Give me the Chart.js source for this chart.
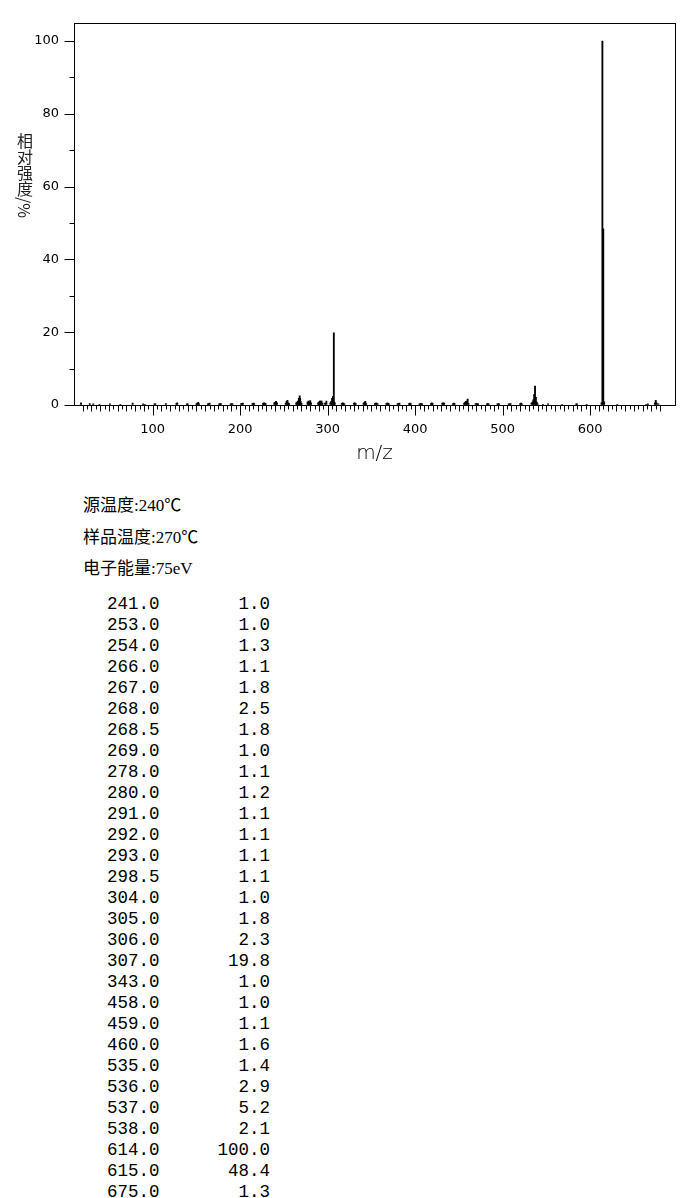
<!DOCTYPE html>
<html>
<head>
<meta charset="utf-8">
<script src="https://cdn.jsdelivr.net/npm/chart.js@4"></script>
<style>
body { margin: 0; background: #fff; width: 699px; height: 1198px; position: relative; overflow: hidden; }
#wrap { position: absolute; left: 0; top: 0; width: 699px; height: 470px; }
#ytitle { position: absolute; left: 17px; top: 133px; writing-mode: vertical-rl; font: 16px "Noto Sans CJK SC"; line-height: 16px; color: #222; }
#info { position: absolute; left: 83px; top: 490px; font: 17px "Liberation Serif", "Noto Sans CJK SC"; line-height: 31.5px; color: #000; }
#peaks { position: absolute; left: 107px; top: 594px; font: 17.5px "Liberation Mono"; line-height: 21px; color: #000; }
#peaks span { display: inline-block; white-space: pre; }
#peaks .m { width: 110px; }
#peaks .i { width: 53px; text-align: right; }
</style>
</head>
<body>
<div id="wrap"><canvas id="myCanvas" width="699" height="470"></canvas></div>
<div id="ytitle">相对强度/%</div>
<div id="info">
  <div>源温度:240℃</div>
  <div>样品温度:270℃</div>
  <div>电子能量:75eV</div>
</div>
<div id="peaks"></div>
<script>
var mz = [18, 28, 32, 39, 51, 63, 77, 89, 91, 102, 103, 115, 127, 128, 139, 140,
  150, 151, 152, 153, 163, 164, 165, 176, 177, 178, 189, 190, 191, 201, 202, 203,
  214, 215, 216, 226, 227, 228, 229, 239, 240, 241, 242, 252, 253, 254, 255, 256,
  264, 265, 266, 267, 268, 268.5, 269, 270, 277, 278, 279, 280, 281, 289, 290, 291,
  292, 293, 294, 297, 298.5, 303, 304, 305, 306, 307, 307.5, 308, 316, 317, 318, 319,
  330, 331, 332, 341, 342, 343, 344, 354, 355, 356, 357, 367, 368, 369, 370, 380,
  381, 382, 393, 394, 395, 405, 406, 407, 408, 418, 419, 420, 431, 432, 433, 443,
  444, 445, 456, 457, 458, 459, 460, 461, 469, 470, 471, 472, 482, 483, 484, 494,
  495, 496, 507, 508, 509, 520, 521, 522, 533, 534, 535, 536, 537, 538, 539, 540,
  546, 552, 568, 584, 585, 596, 613, 614, 615, 616, 631, 664, 666, 674, 675, 676, 678]
var intensity = [0.6, 0.4, 0.3, 0.2, 0.3, 0.2, 0.5, 0.3, 0.2, 0.3, 0.3, 0.4, 0.4, 0.6, 0.3, 0.3,
  0.4, 0.5, 0.7, 0.3, 0.3, 0.3, 0.5, 0.3, 0.4, 0.4, 0.3, 0.3, 0.4, 0.4, 0.4, 0.5,
  0.4, 0.5, 0.4, 0.4, 0.6, 0.5, 0.4, 0.6, 0.7, 1.0, 0.6, 0.5, 1.0, 1.3, 0.6, 0.4,
  0.6, 0.8, 1.1, 1.8, 2.5, 1.8, 1.0, 0.5, 0.8, 1.1, 0.8, 1.2, 0.6, 0.6, 0.8, 1.1,
  1.1, 1.1, 0.5, 0.5, 1.1, 0.6, 1.0, 1.8, 2.3, 19.8, 0.8, 0.6, 0.4, 0.6, 0.5, 0.3,
  0.5, 0.6, 0.4, 0.5, 0.7, 1.0, 0.4, 0.4, 0.5, 0.5, 0.3, 0.4, 0.5, 0.5, 0.3, 0.4,
  0.4, 0.5, 0.4, 0.5, 0.4, 0.3, 0.4, 0.4, 0.3, 0.4, 0.6, 0.4, 0.5, 0.6, 0.5, 0.3,
  0.5, 0.4, 0.5, 0.7, 1.0, 1.1, 1.6, 0.4, 0.3, 0.4, 0.4, 0.3, 0.3, 0.4, 0.3, 0.3,
  0.4, 0.3, 0.3, 0.3, 0.4, 0.4, 0.5, 0.3, 0.5, 0.8, 1.4, 2.9, 5.2, 2.1, 0.8, 0.3,
  0.2, 0.3, 0.2, 0.3, 0.3, 0.2, 0.6, 100.0, 48.4, 0.9, 0.2, 0.2, 0.3, 0.6, 1.3, 0.6, 0.3]
var xTicks = [100, 200, 300, 400, 500, 600]
var yTicks = [0, 20, 40, 60, 80, 100]

// peak list under the chart: every peak of 1.0% or more
var rows = ''
for (var i = 0; i < mz.length; i++) {
  if (intensity[i] >= 1.0) {
    rows += '<div><span class="m">' + mz[i].toFixed(1) + '</span><span class="i">' + intensity[i].toFixed(1) + '</span></div>'
  }
}
document.getElementById('peaks').innerHTML = rows

// box round the plot and the small tick marks
var frame = {
  id: 'frame',
  afterDraw: function (chart) {
    var ctx = chart.ctx, a = chart.chartArea, x = chart.scales.x, y = chart.scales.y
    var l = Math.round(a.left) + 0.5, b = Math.round(a.bottom) + 0.5
    ctx.save()
    ctx.strokeStyle = '#000'
    ctx.lineWidth = 1
    ctx.strokeRect(l, Math.round(a.top) + 0.5, Math.round(a.right - a.left), Math.round(a.bottom - a.top))
    ctx.beginPath()
    for (var v = 0; v <= 100; v += 10) {
      var py = Math.round(y.getPixelForValue(v)) + 0.5
      ctx.moveTo(l - (v % 20 === 0 ? 10 : 5), py)
      ctx.lineTo(l, py)
    }
    for (var m = 20; m <= 680; m += 5) {
      var px = Math.round(x.getPixelForValue(m)) + 0.5
      ctx.moveTo(px, b)
      ctx.lineTo(px, b + (m % 100 === 0 ? 10 : (m % 10 === 0 ? 6 : 4)))
    }
    ctx.stroke()
    ctx.restore()
  }
}

var tickFont = { family: 'DejaVu Sans', size: 13 }
var ctx = document.getElementById('myCanvas')
var myChart = new Chart(ctx, {
  type: 'bar',
  data: {
    datasets: [{
      data: mz.map(function (m, i) { return { x: m, y: intensity[i] } }),
      backgroundColor: '#000',
      borderWidth: 0,
      barThickness: 1.2
    }]
  },
  options: {
    responsive: false,
    animation: false,
    layout: { padding: { top: 21, right: 24, left: 0, bottom: 0 } },
    plugins: { legend: { display: false }, tooltip: { enabled: false } },
    scales: {
      x: {
        type: 'linear', min: 10, max: 697, offset: false,
        afterBuildTicks: function (s) { s.ticks = xTicks.map(function (v) { return { value: v } }) },
        afterFit: function (s) { s.height = 65 },
        grid: { drawOnChartArea: false, drawTicks: false, offset: false },
        border: { display: false },
        ticks: { padding: 17, color: '#000', font: tickFont, maxRotation: 0, autoSkip: false },
        title: { display: true, text: 'm/z', color: '#000', font: { family: 'DejaVu Sans', size: 20, weight: 200 }, padding: { top: 0, bottom: 4 } }
      },
      y: {
        min: 0, max: 105,
        afterBuildTicks: function (s) { s.ticks = yTicks.map(function (v) { return { value: v } }) },
        afterFit: function (s) { s.width = 74 },
        grid: { drawOnChartArea: false, drawTicks: false },
        border: { display: false },
        ticks: { padding: 15, color: '#000', font: tickFont }
      }
    }
  },
  plugins: [frame]
})
</script>
</body>
</html>
